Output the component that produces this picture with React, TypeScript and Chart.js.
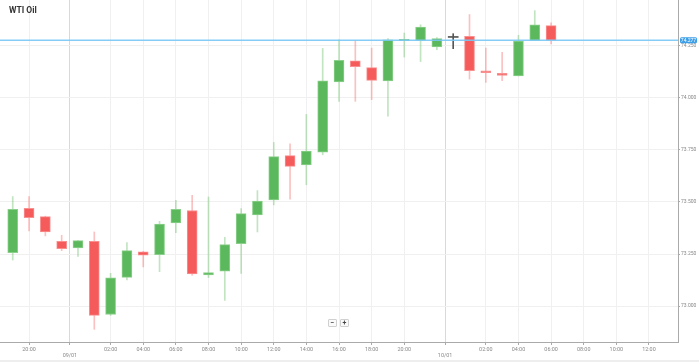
import React, { useEffect, useRef } from 'react';
import { Chart, registerables } from 'chart.js';

Chart.register(...registerables);

// ---- data (hourly candles) ----
const slots = [0, 1, 2, 3, 4, 5, 6, 7, 8, 9, 10, 11, 12, 13, 14, 15, 16, 17, 18, 19, 20, 21, 22, 23, 24, 25, 26, 27, 28, 29, 30, 31, 32, 33];
const opens = [73.257, 73.470, 73.430, 73.311, 73.279, 73.311, 72.959, 73.138, 73.261, 73.247, 73.399, 73.459, 73.149, 73.168, 73.300, 73.438, 73.510, 73.723, 73.678, 73.740, 74.077, 74.178, 74.146, 74.082, 74.275, 74.277, 74.245, 74.291, 74.296, 74.130, 74.118, 74.106, 74.277, 74.348];
const highs = [73.526, 73.526, 73.432, 73.340, 73.316, 73.356, 73.157, 73.305, 73.263, 73.407, 73.508, 73.532, 73.524, 73.330, 73.468, 73.555, 73.786, 73.780, 73.921, 74.238, 74.280, 74.277, 74.240, 74.285, 74.312, 74.352, 74.290, 74.309, 74.401, 74.240, 74.219, 74.301, 74.420, 74.361];
const lows = [73.221, 73.361, 73.337, 73.266, 73.238, 72.888, 72.955, 73.125, 73.188, 73.165, 73.353, 73.148, 73.137, 73.027, 73.157, 73.356, 73.486, 73.514, 73.583, 73.727, 73.984, 73.984, 73.992, 73.912, 74.197, 74.175, 74.232, 74.237, 74.091, 74.075, 74.083, 74.106, 74.277, 74.260];
const closes = [73.465, 73.425, 73.356, 73.276, 73.314, 72.955, 73.135, 73.266, 73.244, 73.394, 73.465, 73.154, 73.161, 73.295, 73.444, 73.505, 73.718, 73.671, 73.745, 74.082, 74.181, 74.150, 74.085, 74.280, 74.282, 74.341, 74.285, 74.291, 74.131, 74.122, 74.109, 74.274, 74.352, 74.277];

const lastPrice = 74.277;
const lastPriceLabel = '74.277';

const xTickPositions = [1, 3.5, 6, 8, 10, 12, 14, 16, 18, 20, 22, 24, 26.5, 29, 31, 33, 35, 37, 39];
const xTickLabels = ['20:00', '09/01', '02:00', '04:00', '06:00', '08:00', '10:00', '12:00', '14:00', '16:00', '18:00', '20:00', '10/01', '02:00', '04:00', '06:00', '08:00', '10:00', '12:00'];
const dateTickIndexes = [1, 12];
const yTickValues = [73.0, 73.25, 73.5, 73.75, 74.0, 74.25];

const xMin = -0.78;
const xMax = 40.78;
const yMin = 72.827;
const yMax = 74.471;

const GREEN = '#5cb85c';
const GREEN_BORDER = '#8ad08a';
const GREEN_WICK = 'rgba(92,184,92,0.38)';
const RED = '#f55b5b';
const RED_BORDER = '#fa8f8f';
const RED_WICK = 'rgba(245,91,91,0.38)';
const DOJI = '#555555';

function kind(i: number) {
  if (closes[i] > opens[i]) return 'up';
  if (closes[i] < opens[i]) return 'down';
  return 'flat';
}

const priceBadge = {
  id: 'priceBadge',
  afterDraw(chart: any) {
    const { ctx, chartArea, scales } = chart;
    const py = scales.y.getPixelForValue(lastPrice);
    const x = chartArea.right + 2;
    const w = 17;
    const h = 6;
    ctx.save();
    ctx.fillStyle = '#3d9fe8';
    ctx.beginPath();
    if (ctx.roundRect) ctx.roundRect(x, py - h / 2, w, h, 1.5);
    else ctx.rect(x, py - h / 2, w, h);
    ctx.fill();
    ctx.fillStyle = '#ffffff';
    ctx.font = '5px Roboto, Arial, sans-serif';
    ctx.textBaseline = 'middle';
    ctx.textAlign = 'center';
    ctx.fillText(lastPriceLabel, x + w / 2, py + 0.3);
    ctx.restore();
  },
};

export default function App() {
  const ref = useRef<HTMLCanvasElement>(null);

  useEffect(() => {
    document.body.style.margin = '0';
    const bodyColors = slots.map((i) => (kind(i) === 'up' ? GREEN : kind(i) === 'down' ? RED : DOJI));
    const bodyBorders = slots.map((i) => (kind(i) === 'up' ? GREEN_BORDER : kind(i) === 'down' ? RED_BORDER : DOJI));
    const wickColors = slots.map((i) => (kind(i) === 'up' ? GREEN_WICK : kind(i) === 'down' ? RED_WICK : DOJI));

    const chart = new Chart(ref.current as HTMLCanvasElement, {
      type: 'bar',
      data: {
        datasets: [
          {
            type: 'line',
            data: [
              { x: xMin, y: lastPrice },
              { x: xMax, y: lastPrice },
            ],
            borderColor: 'rgba(120,200,245,0.9)',
            borderWidth: 1.5,
            pointRadius: 0,
            order: 0,
          } as any,
          {
            data: slots.map((i) => ({ x: i, y: [opens[i], closes[i]] })),
            backgroundColor: bodyColors,
            borderColor: bodyBorders,
            borderWidth: slots.map((i) => (kind(i) === 'flat' ? 0 : 1)),
            borderSkipped: false,
            barThickness: 10,
            minBarLength: 1,
            grouped: false,
            order: 1,
          } as any,
          {
            data: slots.map((i) => ({ x: i, y: [lows[i], highs[i]] })),
            backgroundColor: wickColors,
            borderWidth: 0,
            barThickness: 1,
            grouped: false,
            order: 2,
          } as any,
        ],
      },
      options: {
        responsive: false,
        animation: false,
        devicePixelRatio: 1,
        layout: { padding: 0 },
        plugins: {
          legend: { display: false },
          tooltip: { enabled: false },
          title: { display: false },
        },
        scales: {
          x: {
            type: 'linear',
            position: 'bottom',
            min: xMin,
            max: xMax,
            offset: false,
            afterBuildTicks: (axis: any) => {
              axis.ticks = xTickPositions.map((v) => ({ value: v }));
            },
            afterFit: (scale: any) => {
              scale.height = 20;
              scale.paddingLeft = 0;
              scale.paddingRight = 0;
            },
            grid: {
              offset: false,
              color: (ctx: any) => (dateTickIndexes.includes(ctx.index) ? '#d9d9d9' : '#f0f0f0'),
              tickColor: '#aaaaaa',
              tickLength: 3,
              lineWidth: 1,
            },
            border: { display: true, color: '#aaaaaa', width: 1 },
            ticks: {
              autoSkip: false,
              maxRotation: 0,
              minRotation: 0,
              padding: 1,
              color: '#888888',
              font: { family: 'Roboto, Arial, sans-serif', size: 5.4 },
              callback: (_v: any, index: number) =>
                dateTickIndexes.includes(index) ? ['', xTickLabels[index]] : xTickLabels[index],
            },
          } as any,
          y: {
            type: 'linear',
            position: 'right',
            min: yMin,
            max: yMax,
            afterBuildTicks: (axis: any) => {
              axis.ticks = yTickValues.map((v) => ({ value: v }));
            },
            afterFit: (scale: any) => {
              scale.width = 21;
              scale.paddingTop = 0;
              scale.paddingBottom = 0;
            },
            grid: {
              color: '#f0f0f0',
              tickColor: '#aaaaaa',
              tickLength: 2,
              lineWidth: 1,
            },
            border: { display: true, color: '#aaaaaa', width: 1 },
            ticks: {
              padding: 1,
              color: '#888888',
              font: { family: 'Roboto, Arial, sans-serif', size: 5 },
              callback: (v: any) => Number(v).toFixed(3),
            },
          } as any,
        },
      } as any,
      plugins: [priceBadge],
    });
    return () => chart.destroy();
  }, []);

  const btn: React.CSSProperties = {
    position: 'absolute',
    top: 319,
    width: 9,
    height: 8,
    boxSizing: 'border-box',
    border: '1px solid #d0d0d0',
    borderRadius: 1,
    background: '#fafafa',
    color: '#444',
    fontSize: 7,
    lineHeight: '6px',
    textAlign: 'center',
    fontFamily: 'Roboto, Arial, sans-serif',
    fontWeight: 700,
  };

  return (
    <div style={{ position: 'relative', width: 699, height: 362, background: '#ffffff', overflow: 'hidden' }}>
      <canvas ref={ref} width={699} height={362} style={{ display: 'block' }} />
      <div
        style={{
          position: 'absolute',
          left: 9,
          top: 5.5,
          fontFamily: 'Roboto, Arial, sans-serif',
          fontWeight: 700,
          fontSize: 8.5,
          lineHeight: '8.5px',
          color: '#333333',
          whiteSpace: 'nowrap',
        }}
      >
        WTI Oil
      </div>
      <div style={{ ...btn, left: 328 }}>−</div>
      <div style={{ ...btn, left: 340 }}>+</div>
      <div style={{ position: 'absolute', left: 0, top: 360, width: 699, height: 2, background: '#eeeeee' }} />
    </div>
  );
}
